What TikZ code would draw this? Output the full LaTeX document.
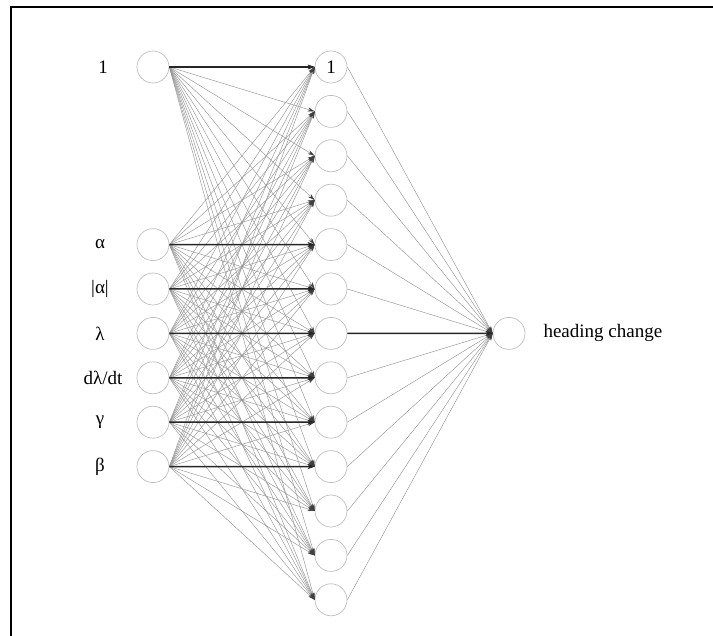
\documentclass[tikz,border=0pt]{standalone}
\usepackage{fontspec}
\setmainfont{Liberation Serif}
\usetikzlibrary{arrows.meta}
\begin{document}
\begin{tikzpicture}[x=1pt,y=-1pt,
  neuron/.style={circle,draw=black!25,line width=0.7pt,minimum size=32pt,inner sep=0pt,font=\fontsize{19}{21}\selectfont},
  lbl/.style={font=\fontsize{19}{21}\selectfont},
  weak/.style={draw=black!42,line width=0.45pt,-{Stealth[length=7pt,width=4pt,black!75]}},
  strong/.style={draw=black!85,line width=1.5pt,-{Stealth[length=7pt,width=5pt]}}]
\useasboundingbox (0,0) rectangle (713,636);
\draw[line width=2pt] (11,636) -- (11,7) -- (713,7);
% hidden layer
\node[neuron] (h0) at (331,67) {1};
\foreach \k in {1,...,12} \node[neuron] (h\k) at (331,{67+44.4*\k}) {};
% input layer
\node[neuron] (i0) at (153,67) {};
\node[neuron] (i1) at (153,244.6) {};
\node[neuron] (i2) at (153,289) {};
\node[neuron] (i3) at (153,333.4) {};
\node[neuron] (i4) at (153,377.8) {};
\node[neuron] (i5) at (153,422.2) {};
\node[neuron] (i6) at (153,466.6) {};
\node[lbl] (l0) at (103,67) {1};
\node[lbl] (l1) at (100,244.6) {α};
\node[lbl] (l2) at (100,289) {|α|};
\node[lbl] (l3) at (100,333.4) {λ};
\node[lbl] (l4) at (103,377.8) {dλ/dt};
\node[lbl] (l5) at (100,422.2) {γ};
\node[lbl] (l6) at (100,466.6) {β};
% output
\node[neuron] (o) at (509,333.4) {};
\node[lbl,anchor=west] (ol) at (540,333.4) {heading change};
% weak connections
\foreach \i in {0,...,6}
  \foreach \j in {0,...,12}
    \draw[weak] (i\i.east) -- (h\j.west);
\foreach \j in {0,...,12}
  \draw[weak] (h\j.east) -- (o.west);
% strong connections
\draw[strong] (i0.east) -- (h0.west);
\draw[strong] (i1.east) -- (h4.west);
\draw[strong] (i2.east) -- (h5.west);
\draw[strong] (i3.east) -- (h6.west);
\draw[strong] (i4.east) -- (h7.west);
\draw[strong] (i5.east) -- (h8.west);
\draw[strong] (i6.east) -- (h9.west);
\draw[strong] (h6.east) -- (o.west);
\end{tikzpicture}
\end{document}
